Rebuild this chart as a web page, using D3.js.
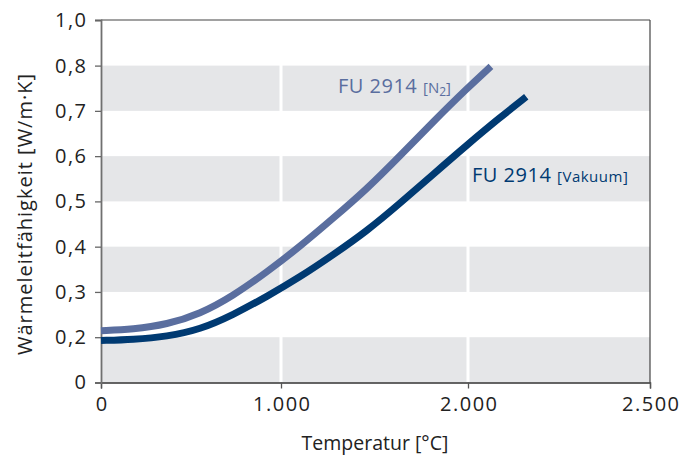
<!DOCTYPE html>
<html><head><meta charset="utf-8">
<script src="https://cdn.jsdelivr.net/npm/d3@7/dist/d3.min.js"></script>
<style>
body{margin:0;background:#fff;}
text{font-family:"Open Sans","Noto Sans",sans-serif;}
</style></head>
<body><svg id="c" width="695" height="456"></svg>
<script>
// ---- data ----
const xTicks = [0, 1000, 2000, 2500];
const xTickLabels = ["0", "1.000", "2.000", "2.500"];
const yTicks = [0, 0.2, 0.3, 0.4, 0.5, 0.6, 0.7, 0.8, 1.0];
const yTickLabels = ["0", "0,2", "0,3", "0,4", "0,5", "0,6", "0,7", "0,8", "1,0"];
const bands = [[0, 0.2], [0.3, 0.4], [0.5, 0.6], [0.7, 0.8]];
const n2Temp = [0, 178, 367, 550, 733, 922, 1102, 1278, 1460, 1636, 1813, 1995, 2063];
const n2Val  = [0.2144, 0.2175, 0.2281, 0.2513, 0.2910, 0.3441, 0.4004, 0.4623, 0.5275, 0.6004, 0.6756, 0.7496, 0.7982];
const vakTemp = [0, 178, 367, 550, 733, 922, 1102, 1278, 1460, 1636, 1813, 1995, 2088, 2160];
const vakVal  = [0.1854, 0.1898, 0.2015, 0.2170, 0.2491, 0.2899, 0.3330, 0.3817, 0.4347, 0.4955, 0.5596, 0.6248, 0.6855, 0.7310];

const svg = d3.select("#c");
const x = d3.scaleLinear().domain([0, 1000, 2000, 2500]).range([101, 281, 468, 650]);
const y = d3.scaleLinear().domain([0, 0.2, 0.8, 1.0]).range([382.5, 337.2, 65.6, 20]);

// bands
svg.selectAll("rect.band").data(bands).join("rect")
  .attr("x", x(0)).attr("width", x(2500) - x(0))
  .attr("y", d => y(d[1])).attr("height", d => y(d[0]) - y(d[1]))
  .attr("fill", "#e5e6e8");

// vertical white gridlines
svg.selectAll("line.vg").data([1000, 2000]).join("line")
  .attr("x1", d => x(d)).attr("x2", d => x(d))
  .attr("y1", y(1.0)).attr("y2", y(0))
  .attr("stroke", "#fff").attr("stroke-width", 3);

// frame top/right
svg.append("line").attr("x1", x(0)).attr("x2", x(2500)).attr("y1", y(1)).attr("y2", y(1))
  .attr("stroke", "#444").attr("stroke-width", 1.2);
svg.append("line").attr("x1", x(2500)).attr("x2", x(2500)).attr("y1", y(1)).attr("y2", y(0))
  .attr("stroke", "#444").attr("stroke-width", 1.2);

// axes
const xAxis = d3.axisBottom(x).tickValues(xTicks).tickFormat((d, i) => xTickLabels[i]).tickSize(6).tickPadding(8);
const gx = svg.append("g").attr("transform", `translate(0,${y(0)})`).call(xAxis);
gx.select(".domain").attr("stroke", "#333").attr("stroke-width", 1.3);
gx.selectAll(".tick line").attr("stroke", "#555").attr("stroke-width", 1.3);
gx.selectAll(".tick text").attr("font-size", 20).attr("letter-spacing", 1.5).attr("dx", 0.75)
  .attr("fill", "#222").attr("font-family", "Open Sans");

const yAxis = d3.axisLeft(y).tickValues(yTicks).tickFormat((d, i) => yTickLabels[i]).tickSize(6).tickPadding(7.5);
const gy = svg.append("g").attr("transform", `translate(${x(0)},0)`).call(yAxis);
gy.select(".domain").attr("stroke", "#707070").attr("stroke-width", 1.8);
gy.selectAll(".tick line").attr("stroke", "#666").attr("stroke-width", 1.3);
gy.selectAll(".tick text").attr("font-size", 20).attr("letter-spacing", 1.5)
  .attr("fill", "#222").attr("font-family", "Open Sans");

// curves
const line = d3.line().x(d => x(d[0])).y(d => y(d[1])).curve(d3.curveBasis);
svg.append("path").datum(n2Temp.map((t, i) => [t, n2Val[i]]))
  .attr("d", line).attr("fill", "none").attr("stroke", "#5a6e9f").attr("stroke-width", 7);
svg.append("path").datum(vakTemp.map((t, i) => [t, vakVal[i]]))
  .attr("d", line).attr("fill", "none").attr("stroke", "#003a72").attr("stroke-width", 7);

// labels
const l1 = svg.append("text").attr("x", 451).attr("y", 92.5).attr("text-anchor", "end").attr("fill", "#5a6e9f");
l1.append("tspan").attr("font-size", 20).attr("letter-spacing", 0.5).text("FU 2914 ");
l1.append("tspan").attr("font-size", 15).text("[N");
l1.append("tspan").attr("font-size", 12).attr("dy", 3).text("2");
l1.append("tspan").attr("font-size", 15).attr("dy", -3).text("]");

const l2 = svg.append("text").attr("x", 472).attr("y", 182).attr("fill", "#003a72");
l2.append("tspan").attr("font-size", 20).attr("letter-spacing", 0.5).text("FU 2914 ");
l2.append("tspan").attr("font-size", 15).attr("letter-spacing", 0.5).text("[Vakuum]");

// axis titles
svg.append("text").attr("x", 375).attr("y", 450).attr("text-anchor", "middle")
  .attr("font-size", 19.5).attr("fill", "#222").text("Temperatur [°C]");
svg.append("text").attr("transform", "translate(32,214) rotate(-90)").attr("text-anchor", "middle")
  .attr("font-size", 20).attr("letter-spacing", 1).attr("fill", "#222").text("Wärmeleitfähigkeit [W/m·K]");
</script></body></html>
